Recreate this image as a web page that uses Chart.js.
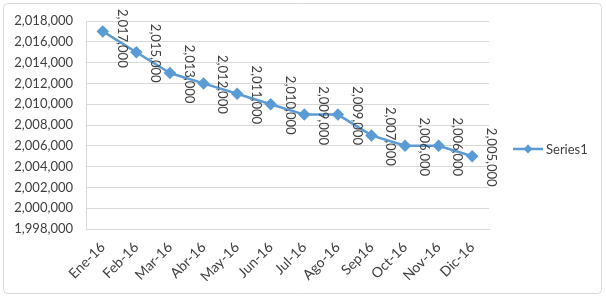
<!DOCTYPE html>
<html>
<head>
<meta charset="utf-8">
<script src="https://cdn.jsdelivr.net/npm/chart.js@4/dist/chart.umd.min.js"></script>
<style>
  html, body { margin: 0; padding: 0; background: #fff; }
  #wrap { width: 606px; height: 298px; }
</style>
</head>
<body>
<div id="wrap"><canvas id="myLineChart" width="606" height="298"></canvas></div>
<script>
// chart data
const months = ["Ene-16", "Feb-16", "Mar-16", "Abr-16", "May-16", "Jun-16",
  "Jul-16", "Ago-16", "Sep16", "Oct-16", "Nov-16", "Dic-16"];
const series1 = [2017000, 2015000, 2013000, 2012000, 2011000, 2010000,
  2009000, 2009000, 2007000, 2006000, 2006000, 2005000];
const yMin = 1998000;
const yMax = 2018000;
const yStep = 2000;

const lineColor = "rgba(91, 155, 213, 1)";
const textColor = "rgba(64, 64, 64, 1)";
const fontFamily = "Lato, 'Liberation Sans', sans-serif";

const fmt = (v) => Number(v).toLocaleString("en-US");

// rotated value labels next to each point, kept inside the frame
const valueLabels = {
  id: "valueLabels",
  afterDatasetsDraw(chart) {
    const ctx = chart.ctx;
    const meta = chart.getDatasetMeta(0);
    ctx.save();
    ctx.fillStyle = textColor;
    ctx.font = "13px " + fontFamily;
    ctx.textAlign = "center";
    ctx.textBaseline = "middle";
    meta.data.forEach((pt, i) => {
      const txt = fmt(series1[i]);
      const half = ctx.measureText(txt).width / 2;
      const cy = Math.max(pt.y + 1, 9 + half);
      ctx.save();
      ctx.translate(pt.x + 19, cy);
      ctx.rotate(Math.PI / 2);
      ctx.fillText(txt, 0, 0);
      ctx.restore();
    });
    ctx.restore();
  },
};

// outer frame and legend (line + diamond)
const frameAndLegend = {
  id: "frameAndLegend",
  beforeDraw(chart) {
    const ctx = chart.ctx;
    ctx.save();
    ctx.fillStyle = "#fff";
    ctx.fillRect(0, 0, chart.width, chart.height);
    ctx.strokeStyle = "rgba(217, 217, 217, 1)";
    ctx.lineWidth = 1;
    ctx.beginPath();
    ctx.roundRect(3.5, 3.5, 598, 290, 4);
    ctx.stroke();
    ctx.restore();
  },
  afterDraw(chart) {
    const ctx = chart.ctx;
    const y = 149;
    ctx.save();
    ctx.strokeStyle = lineColor;
    ctx.lineWidth = 2.5;
    ctx.beginPath();
    ctx.moveTo(513, y);
    ctx.lineTo(543, y);
    ctx.stroke();
    ctx.fillStyle = lineColor;
    ctx.beginPath();
    ctx.moveTo(528, y - 4.5);
    ctx.lineTo(532.5, y);
    ctx.lineTo(528, y + 4.5);
    ctx.lineTo(523.5, y);
    ctx.closePath();
    ctx.fill();
    ctx.fillStyle = textColor;
    ctx.font = "13px " + fontFamily;
    ctx.textAlign = "left";
    ctx.textBaseline = "middle";
    ctx.fillText("Series1", 546, y + 1);
    ctx.restore();
  },
};

const ctx = document.getElementById("myLineChart").getContext("2d");

myLineChart = new Chart(ctx, {
  type: "line",
  data: {
    labels: months,
    datasets: [
      {
        label: "Series1",
        data: series1,
        borderColor: lineColor,
        backgroundColor: lineColor,
        borderWidth: 2.5,
        pointStyle: "rectRot",
        pointRadius: 4.5,
        pointHoverRadius: 4.5,
        tension: 0,
      },
    ],
  },
  options: {
    responsive: false,
    animation: false,
    events: [],
    layout: {
      padding: { left: 0, right: 117, top: 21, bottom: 0 },
    },
    plugins: {
      legend: { display: false },
      tooltip: { enabled: false },
    },
    scales: {
      x: {
        offset: true,
        grid: {
          display: false,
          drawTicks: false,
        },
        border: { color: "rgba(217, 217, 217, 1)", width: 1 },
        ticks: {
          color: textColor,
          font: { size: 14, family: fontFamily },
          minRotation: 45,
          maxRotation: 45,
          autoSkip: false,
          padding: 10,
        },
        afterFit(scale) {
          scale.height = 69;
        },
      },
      y: {
        min: yMin,
        max: yMax,
        grid: {
          color: "rgba(217, 217, 217, 1)",
          drawTicks: false,
        },
        border: { color: "rgba(217, 217, 217, 1)", width: 1 },
        ticks: {
          stepSize: yStep,
          color: textColor,
          font: { size: 13, family: fontFamily },
          padding: 13,
          callback: (v) => fmt(v),
        },
        afterFit(scale) {
          scale.width = 86;
        },
      },
    },
  },
  plugins: [frameAndLegend, valueLabels],
});
</script>
</body>
</html>
